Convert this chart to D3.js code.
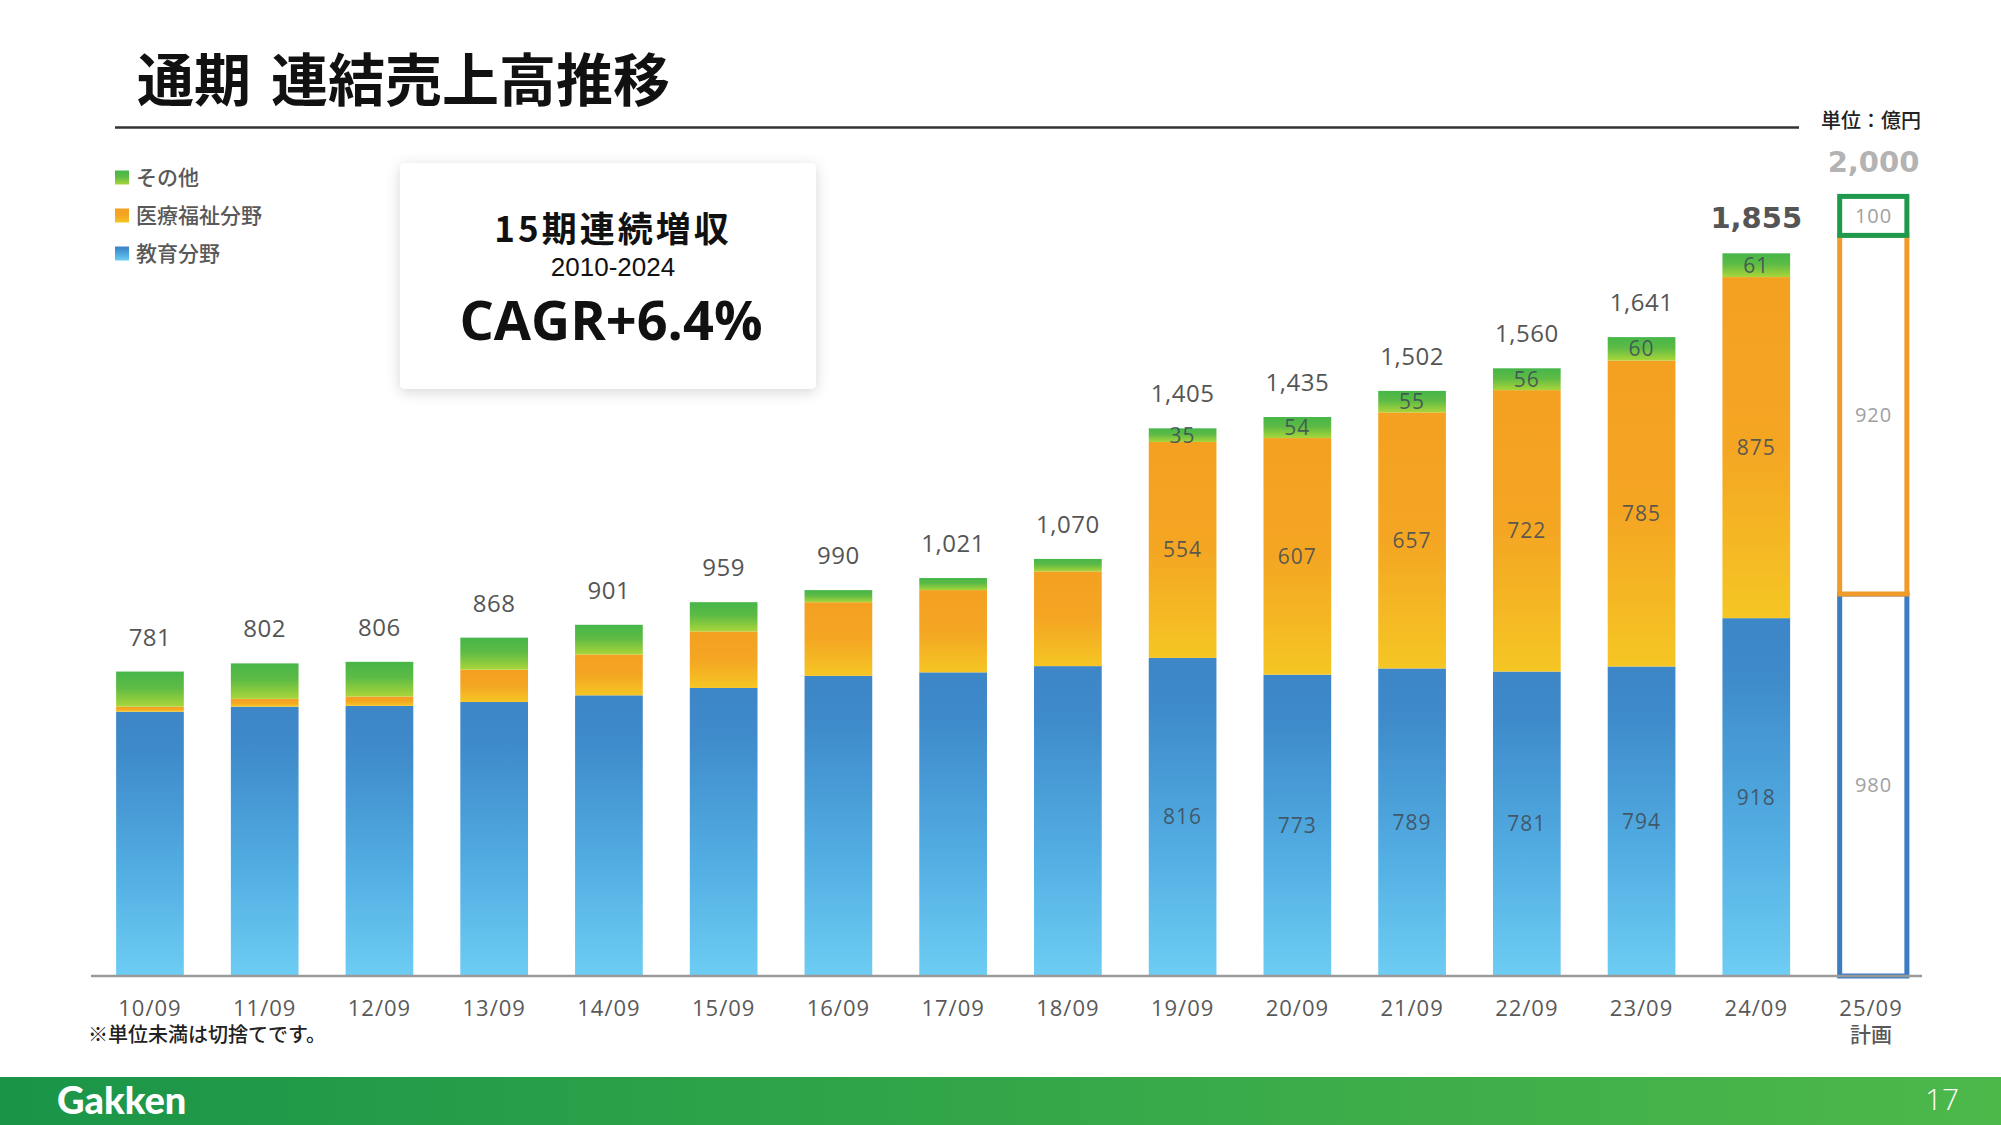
<!DOCTYPE html>
<html>
<head>
<meta charset="utf-8">
<script src="https://cdn.jsdelivr.net/npm/d3@7"></script>
<style>
  body { margin: 0; background: #fff; }
  svg { display: block; }
  .jp { font-family: "Noto Sans CJK JP", "Noto Sans", sans-serif; }
  .num { font-family: "Open Sans", "Noto Sans", sans-serif; }
</style>
</head>
<body>
<div id="chart"></div>
<script>
// 売上高（億円）
var years = ["10/09","11/09","12/09","13/09","14/09","15/09","16/09","17/09","18/09","19/09","20/09","21/09","22/09","23/09","24/09","25/09"];
var education = [678, 691, 693, 703, 720, 739, 770, 779, 795, 816, 773, 789, 781, 794, 918];
var medical   = [13, 20, 24, 83, 105, 145, 189, 211, 243, 554, 607, 657, 722, 785, 875];
var other     = [90, 91, 89, 82, 76, 75, 31, 31, 32, 35, 54, 55, 56, 60, 61];
var totals    = [781, 802, 806, 868, 901, 959, 990, 1021, 1070, 1405, 1435, 1502, 1560, 1641, 1855];
var showSegmentLabel = [0,0,0,0,0,0,0,0,0,1,1,1,1,1,1];
var planYear = "25/09";
var plan = { education: 980, medical: 920, other: 100, total: 2000 };

var seriesKeys = ["education", "medical", "other"];
var legendNames = { other: "その他", medical: "医療福祉分野", education: "教育分野" };
var seriesStroke = { education: "#3b7cc2", medical: "#f09a2a", other: "#1f9a4c" };

var W = 2001, H = 1125;
var baseY = 976;

var svg = d3.select("#chart").append("svg")
  .attr("width", W).attr("height", H);

var defs = svg.append("defs");

function grad(id, stops) {
  var g = defs.append("linearGradient").attr("id", id)
    .attr("x1", 0).attr("y1", 0).attr("x2", 0).attr("y2", 1);
  stops.forEach(s => g.append("stop").attr("offset", s[0]).attr("stop-color", s[1]));
}
grad("g-education", [[0, "#3d86c7"], [0.15, "#3e8aca"], [0.6, "#52ade2"], [1, "#6dcdf3"]]);
grad("g-medical", [[0, "#f4a021"], [0.5, "#f4a623"], [1, "#f5c624"]]);
grad("g-other", [[0, "#46b649"], [0.45, "#5dbb45"], [1, "#a9d53a"]]);
grad("g-footer", [[0, "#1a9548"], [1, "#4db84a"]]);
defs.select("#g-footer").attr("x2", 1).attr("y2", 0);

var shadow = defs.append("filter").attr("id", "shadow")
  .attr("x", "-20%").attr("y", "-20%").attr("width", "140%").attr("height", "150%");
shadow.append("feDropShadow").attr("dx", 0).attr("dy", 3).attr("stdDeviation", 7)
  .attr("flood-color", "#000").attr("flood-opacity", 0.16);

var x = d3.scaleBand()
  .domain(years)
  .range([92.6, 1928.4])
  .paddingInner(0.41)
  .paddingOuter(0.205);

var y = d3.scaleLinear()
  .domain([0, 2000])
  .range([baseY, 196.4]);

var rows = years.slice(0, totals.length).map((yr, i) => ({
  year: yr, education: education[i], medical: medical[i], other: other[i],
  total: totals[i], label: showSegmentLabel[i], idx: i
}));

var stack = d3.stack().keys(seriesKeys);
var layers = stack(rows);

// title
var title = svg.append("text").attr("class", "jp")
  .attr("y", 101).attr("font-size", 57).attr("font-weight", 700).attr("fill", "#111");
title.append("tspan").attr("x", 137).text("通期");
title.append("tspan").attr("x", 271).text("連結売上高推移");

svg.append("line")
  .attr("x1", 115).attr("x2", 1799).attr("y1", 127.5).attr("y2", 127.5)
  .attr("stroke", "#333").attr("stroke-width", 2.5);

svg.append("text").attr("class", "jp")
  .attr("x", 1921).attr("y", 128).attr("text-anchor", "end")
  .attr("font-size", 20).attr("font-weight", 500).attr("fill", "#222")
  .text("単位：億円");

// legend
var legend = svg.append("g").selectAll("g")
  .data(["other", "medical", "education"]).join("g")
  .attr("transform", (d, i) => "translate(115," + (177.5 + i * 38) + ")");
legend.append("rect").attr("x", 0).attr("y", -7).attr("width", 14).attr("height", 14)
  .attr("fill", d => "url(#g-" + d + ")");
legend.append("text").attr("class", "jp")
  .attr("x", 21).attr("y", 7.5).attr("font-size", 21).attr("font-weight", 500)
  .attr("fill", "#595959").text(d => legendNames[d]);

// callout box
var box = svg.append("g");
box.append("rect").attr("x", 400).attr("y", 163).attr("width", 416).attr("height", 226)
  .attr("rx", 5).attr("fill", "#fff").attr("filter", "url(#shadow)");
box.append("text").attr("class", "jp")
  .attr("x", 613).attr("y", 242).attr("text-anchor", "middle")
  .attr("font-size", 35).attr("font-weight", 700).attr("letter-spacing", 3).attr("fill", "#111")
  .text("15期連続増収");
box.append("text")
  .attr("x", 613).attr("y", 276).attr("text-anchor", "middle")
  .attr("font-family", "Liberation Sans, Arial, sans-serif")
  .attr("font-size", 26).attr("fill", "#111")
  .text("2010-2024");
box.append("text").attr("class", "num")
  .attr("x", 611).attr("y", 340).attr("text-anchor", "middle")
  .attr("font-size", 54).attr("font-weight", 700).attr("fill", "#111")
  .text("CAGR+6.4%");

// bars
var layerG = svg.append("g").selectAll("g")
  .data(layers).join("g")
  .attr("fill", d => "url(#g-" + d.key + ")");

layerG.selectAll("rect")
  .data(d => d).join("rect")
  .attr("x", d => x(d.data.year))
  .attr("width", x.bandwidth())
  .attr("y", d => y(d[1]))
  .attr("height", d => y(d[0]) - y(d[1]));

// segment value labels
layerG.selectAll("text")
  .data(d => d.filter(p => p.data.label).map(p => ({ p: p, key: d.key })))
  .join("text").attr("class", "num")
  .attr("x", d => x(d.p.data.year) + x.bandwidth() / 2)
  .attr("y", d => (y(d.p[0]) + y(d.p[1])) / 2 + 7.5)
  .attr("text-anchor", "middle")
  .attr("font-size", 21).attr("font-weight", 500)
  .attr("fill", "#3f4a55").attr("fill-opacity", 0.85)
  .attr("letter-spacing", 1)
  .text(d => d.p.data[d.key]);

// totals above bars
svg.append("g").selectAll("text")
  .data(rows).join("text")
  .attr("x", d => x(d.year) + x.bandwidth() / 2)
  .attr("y", d => y(d.education + d.medical + d.other) - (d.idx === rows.length - 1 ? 25 : 26))
  .attr("text-anchor", "middle")
  .attr("font-family", d => d.idx === rows.length - 1 ? "DejaVu Sans, sans-serif" : "Open Sans, sans-serif")
  .attr("font-size", d => d.idx === rows.length - 1 ? 29 : 24)
  .attr("font-weight", d => d.idx === rows.length - 1 ? 700 : 400)
  .attr("letter-spacing", d => d.idx === rows.length - 1 ? 0 : 0.5)
  .attr("fill", "#555")
  .text(d => d3.format(",")(d.total));

// plan bar (outline only)
var planRows = [{ year: planYear, education: plan.education, medical: plan.medical, other: plan.other }];
var planLayers = stack(planRows);
var planG = svg.append("g");
planG.selectAll("rect")
  .data(planLayers).join("rect")
  .attr("x", x(planYear) + 2.5)
  .attr("width", x.bandwidth() - 0.5)
  .attr("y", d => y(d[0][1]))
  .attr("height", d => y(d[0][0]) - y(d[0][1]))
  .attr("fill", "#fff")
  .attr("stroke", d => seriesStroke[d.key])
  .attr("stroke-width", 5);
planG.selectAll("text")
  .data(planLayers).join("text").attr("class", "num")
  .attr("x", x(planYear) + x.bandwidth() / 2 + 2.5)
  .attr("y", d => (y(d[0][0]) + y(d[0][1])) / 2 + 7)
  .attr("text-anchor", "middle")
  .attr("font-size", 20).attr("fill", "#a0a0a0").attr("letter-spacing", 1)
  .text(d => plan[d.key]);
svg.append("text")
  .attr("x", x(planYear) + x.bandwidth() / 2 + 2.5)
  .attr("y", y(plan.total) - 24)
  .attr("text-anchor", "middle")
  .attr("font-family", "DejaVu Sans, sans-serif")
  .attr("font-size", 29).attr("font-weight", 700).attr("fill", "#b3b3b3")
  .text(d3.format(",")(plan.total));

// x axis
var xAxis = svg.append("g")
  .attr("transform", "translate(0," + baseY + ")")
  .call(d3.axisBottom(x).tickSize(0).tickPadding(24));
xAxis.select(".domain").remove();
xAxis.append("line").attr("x1", 91).attr("x2", 1922).attr("y1", 0).attr("y2", 0)
  .attr("stroke", "#9a9a9a").attr("stroke-width", 2.5);
xAxis.selectAll(".tick text")
  .attr("font-family", "Open Sans, sans-serif")
  .attr("font-size", 22).attr("fill", "#595959")
  .attr("letter-spacing", 1);
xAxis.selectAll(".tick").filter(d => d === planYear).append("text")
  .attr("class", "jp").attr("y", 66).attr("text-anchor", "middle")
  .attr("font-size", 21).attr("font-weight", 500).attr("fill", "#595959")
  .text("計画");

svg.append("text").attr("class", "jp")
  .attr("x", 88).attr("y", 1042)
  .attr("font-size", 20).attr("font-weight", 500).attr("fill", "#222")
  .text("※単位未満は切捨てです。");

// footer
svg.append("rect").attr("x", 0).attr("y", 1077).attr("width", W).attr("height", H - 1077)
  .attr("fill", "url(#g-footer)");
svg.append("text")
  .attr("x", 57).attr("y", 1114)
  .attr("font-family", "Lato, sans-serif").attr("font-size", 38).attr("font-weight", 900)
  .attr("fill", "#fff").text("Gakken");
svg.append("text")
  .attr("x", 1942).attr("y", 1110).attr("text-anchor", "middle")
  .attr("font-family", "Open Sans, sans-serif").attr("font-size", 30).attr("font-weight", 300)
  .attr("fill", "#fff").text("17");
</script>
</body>
</html>
